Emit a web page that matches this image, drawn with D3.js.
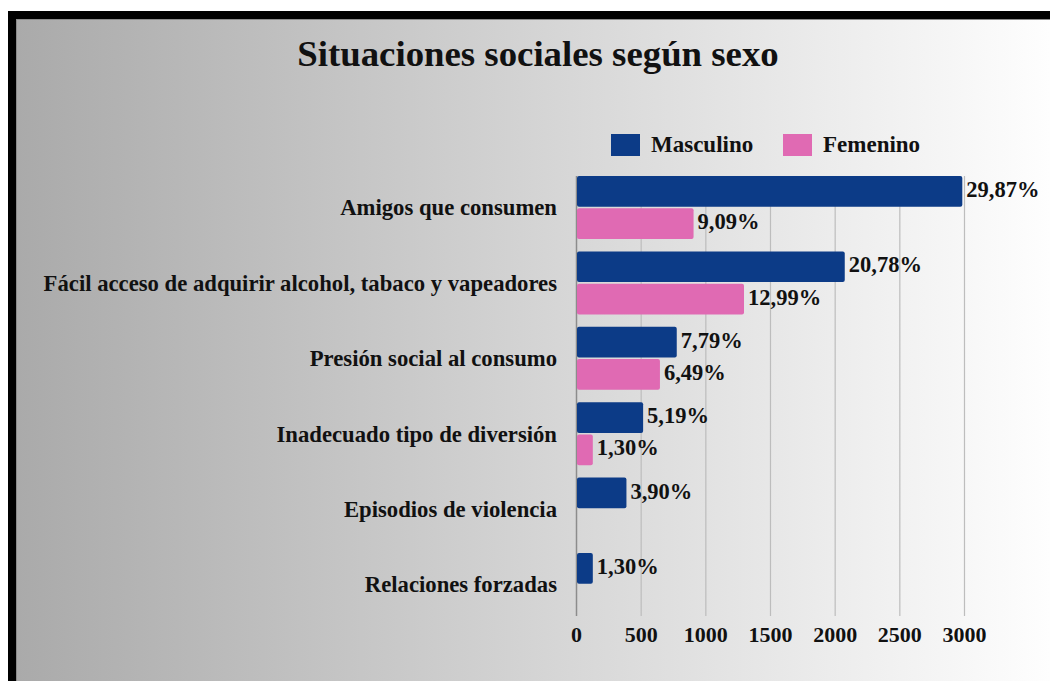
<!DOCTYPE html>
<html><head><meta charset="utf-8">
<script src="https://cdn.jsdelivr.net/npm/d3@7"></script>
<style>
html,body{margin:0;padding:0;background:#fff;}
svg{display:block;}
text{font-family:"Liberation Serif","Times New Roman",serif;font-weight:bold;fill:#111;}
</style></head><body>
<svg id="chart" width="1050" height="681"></svg>
<script>
const categories = ["Amigos que consumen","Fácil acceso de adquirir alcohol, tabaco y vapeadores","Presión social al consumo","Inadecuado tipo de diversión","Episodios de violencia","Relaciones forzadas"];
const seriesNames = ["Masculino","Femenino"];
const masculino = [2987, 2078, 779, 519, 390, 130];
const femenino = [909, 1299, 649, 130, null, null];
const masculinoLabels = ["29,87%","20,78%","7,79%","5,19%","3,90%","1,30%"];
const femeninoLabels = ["9,09%","12,99%","6,49%","1,30%","",""];
const xTicks = [0,500,1000,1500,2000,2500,3000];
const colors = ["#0c3b87","#e06ab3"];
const title = "Situaciones sociales según sexo";

const svg = d3.select("#chart");
const W = 1050, H = 681;
const defs = svg.append("defs");
const grad = defs.append("linearGradient").attr("id","bg").attr("x1","0").attr("x2","1").attr("y1","0").attr("y2","0");
grad.append("stop").attr("offset","0").attr("stop-color","#aaaaaa");
grad.append("stop").attr("offset","1").attr("stop-color","#fefefe");

// frame
svg.append("rect").attr("x",8).attr("y",11).attr("width",W-8).attr("height",H-11).attr("fill","#000");
svg.append("rect").attr("x",16).attr("y",19).attr("width",W-16).attr("height",H-19).attr("fill","#8a8a8a");
svg.append("rect").attr("x",17).attr("y",20).attr("width",W-17).attr("height",H-20).attr("fill","url(#bg)");

svg.append("text").attr("x",538).attr("y",66).attr("text-anchor","middle")
  .style("font-size","36.8px").text(title);

const x = d3.scaleLinear().domain([0,3000]).range([576,964]);
const y = d3.scaleBand().domain(categories).range([176,616]).paddingInner(0.164).paddingOuter(0);
const ySub = d3.scaleBand().domain(seriesNames).range([0,y.bandwidth()]).paddingInner(0.05);

// gridlines
const grid = svg.append("g").attr("transform","translate(0,616)")
  .call(d3.axisBottom(x).tickValues(xTicks).tickSize(-440).tickFormat(""));
grid.select(".domain").remove();
grid.selectAll(".tick line").attr("stroke","#bdbdbd").attr("stroke-width",1.2);
grid.selectAll(".tick").filter(d=>d===0).select("line").attr("stroke","#8c8c8c").attr("stroke-width",1.5);

// tick labels
const ax = svg.append("g").attr("transform","translate(0,616)")
  .call(d3.axisBottom(x).tickValues(xTicks).tickSize(0).tickPadding(10).tickFormat(d3.format("d")));
ax.select(".domain").remove();
ax.selectAll("text").style("font-size","22px").attr("fill","#111")
  .style("font-family",'"Liberation Serif","Times New Roman",serif').style("font-weight","bold");

// category labels
svg.append("g").selectAll("text").data(categories).join("text")
  .attr("x",557).attr("y",d=>y(d)+y.bandwidth()/2).attr("dy","0.35em")
  .attr("text-anchor","end").style("font-size","22.7px").text(d=>d);

const series = [
  {name:"Masculino", values:masculino, labels:masculinoLabels, color:colors[0]},
  {name:"Femenino", values:femenino, labels:femeninoLabels, color:colors[1]}
];
series.forEach(s=>{
  const data = categories.map((c,i)=>({c, v:s.values[i], l:s.labels[i]})).filter(d=>d.v!=null);
  const g = svg.append("g");
  g.selectAll("rect").data(data).join("rect")
    .attr("x",x(0)+1).attr("y",d=>y(d.c)+ySub(s.name))
    .attr("width",d=>x(d.v)-x(0)-1).attr("height",ySub.bandwidth())
    .attr("rx",2).attr("fill",s.color);
  g.selectAll("text").data(data).join("text")
    .attr("x",d=>x(d.v)+4).attr("y",d=>y(d.c)+ySub(s.name)+ySub.bandwidth()/2).attr("dy","0.25em")
    .style("font-size","22.5px").text(d=>d.l);
});

// legend
const legX = [611, 783];
const leg = svg.append("g");
series.forEach((s,i)=>{
  leg.append("rect").attr("x",legX[i]).attr("y",134).attr("width",29).attr("height",22).attr("fill",s.color);
  leg.append("text").attr("x",legX[i]+40).attr("y",152).style("font-size","23px").text(s.name);
});
</script>
</body></html>
